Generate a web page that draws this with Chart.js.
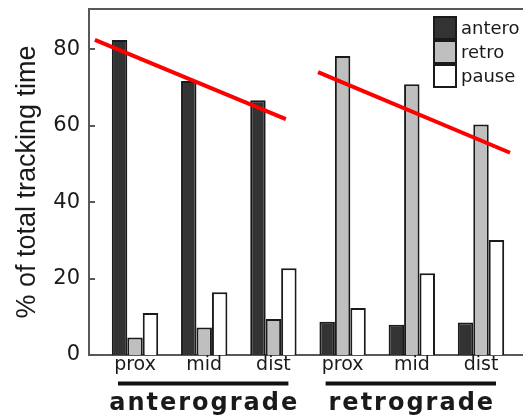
<!DOCTYPE html>
<html><head><meta charset="utf-8">
<script src="https://cdn.jsdelivr.net/npm/chart.js@4"></script>
<style>html,body{margin:0;padding:0;background:#fff}#wrap{width:523px;height:415px}</style>
</head><body><div id="wrap"><canvas id="c" width="523" height="415"></canvas></div>
<script>
const categories = ['prox','mid','dist','prox','mid','dist'];
const groupNames = ['anterograde','retrograde'];
const groupMembers = [[0,1,2],[3,4,5]];
const seriesNames = ['antero','retro','pause'];
const anteroValues = [82.4,71.7,66.6,8.7,7.9,8.5];
const retroValues = [4.6,7.2,9.4,78.2,70.8,60.3];
const pauseValues = [11.0,16.4,22.7,12.3,21.4,30.1];
const yTicks = [0,20,40,60,80];
const trendAntero = [{x:-0.58,y:82.4},{x:2.18,y:61.7}];
const trendRetro = [{x:2.645,y:74.0},{x:5.42,y:52.9}];

const fills = ['#333333','#bfbfbf','#ffffff'];
const edge = '#1a1a1a';
const axisGray = '#585858';
const toXY = arr => arr.map((v,i)=>({x:i,y:v}));

const barDs = [anteroValues, retroValues, pauseValues].map((vals,k)=>({
  type:'bar', label:seriesNames[k], data:toXY(vals),
  backgroundColor:fills[k], borderColor:edge, borderWidth:2,
  categoryPercentage:0.67, barPercentage:1, order:2
}));
const lineDs = [trendAntero, trendRetro].map(d=>({
  type:'line', label:'', data:d, borderColor:'#ff0000', borderWidth:4,
  pointRadius:0, fill:false, order:0, tension:0
}));

const deco = {
  id:'deco',
  afterDraw(chart){
    const {ctx, chartArea:ca, scales:{x,y}} = chart;
    ctx.save();
    ctx.strokeStyle = axisGray; ctx.lineWidth = 2;
    ctx.beginPath(); ctx.moveTo(ca.left-1, ca.top); ctx.lineTo(ca.right, ca.top); ctx.stroke();
    y.ticks.forEach(t=>{
      const py = Math.round(y.getPixelForValue(t.value));
      ctx.beginPath(); ctx.moveTo(ca.left, py); ctx.lineTo(ca.left+6, py); ctx.stroke();
    });
    groupMembers.forEach((mem,g)=>{
      const x0 = x.getPixelForValue(mem[0]) - 17;
      const x1 = x.getPixelForValue(mem[mem.length-1]) + 15;
      ctx.fillStyle = '#111';
      ctx.fillRect(x0, 381.5, x1-x0, 4);
      const cx = (x.getPixelForValue(mem[0]) + x.getPixelForValue(mem[mem.length-1]))/2;
      ctx.font = "bold 24px 'DejaVu Sans'";
      ctx.letterSpacing = '2px';
      ctx.textAlign = 'center'; ctx.textBaseline = 'alphabetic';
      ctx.fillStyle = '#1a1a1a';
      ctx.fillText(groupNames[g], cx, 410);
    });
    ctx.letterSpacing = '0px';
    const bx = ca.right - 90, by0 = ca.top + 7, bw = 24, bh = 24;
    seriesNames.forEach((name,k)=>{
      const by = by0 + k*bh;
      ctx.fillStyle = fills[k];
      ctx.fillRect(bx, by, bw, bh);
      ctx.strokeStyle = edge; ctx.lineWidth = 2;
      ctx.strokeRect(bx+1, by+1, bw-2, bh-2);
      ctx.fillStyle = '#1a1a1a';
      ctx.font = "18px 'DejaVu Sans'";
      ctx.textAlign = 'left'; ctx.textBaseline = 'middle';
      ctx.fillText(name, bx + bw + 4, by + bh/2 + 1);
    });
    ctx.restore();
  }
};

new Chart(document.getElementById('c'), {
  type:'bar',
  data:{ datasets:[...barDs, ...lineDs] },
  options:{
    responsive:false, animation:false,
    layout:{padding:{top:0,right:0,bottom:0,left:0}},
    plugins:{legend:{display:false}, tooltip:{enabled:false}},
    scales:{
      x:{
        type:'linear', min:-0.665, max:5.607, offset:false,
        grid:{display:false, drawTicks:false, offset:false},
        border:{display:true, color:axisGray, width:2},
        ticks:{stepSize:1, includeBounds:false, autoSkip:false, maxRotation:0, padding:1,
          color:'#1a1a1a', font:{family:'DejaVu Sans', size:19, lineHeight:1},
          callback:v => Number.isInteger(v) ? categories[v] : ''},
        afterFit:s=>{ s.height = 60; s.paddingLeft = 0; s.paddingRight = 0; }
      },
      y:{
        min:0, max:90.5,
        afterBuildTicks:s=>{ s.ticks = yTicks.map(v=>({value:v})); },
        grid:{display:false, drawTicks:false},
        border:{display:true, color:axisGray, width:2},
        ticks:{padding:9, color:'#1a1a1a', font:{family:'DejaVu Sans', size:21, lineHeight:0.9}},
        title:{display:true, text:'% of total tracking time', color:'#1a1a1a',
          font:{family:'Liberation Sans', size:27}, padding:{top:11,bottom:0}},
        afterFit:s=>{ s.width = 89; s.paddingTop = 9; s.paddingBottom = 0; }
      }
    }
  },
  plugins:[deco]
});
</script></body></html>
